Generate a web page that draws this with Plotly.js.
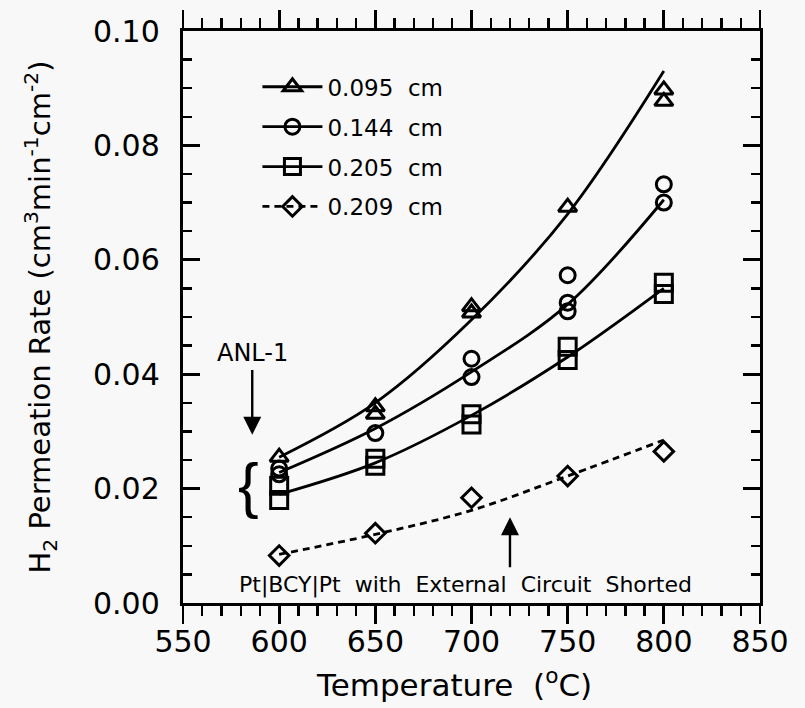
<!DOCTYPE html>
<html>
<head>
<meta charset="utf-8">
<script src="https://cdn.plot.ly/plotly-3.0.1.min.js"></script>
<style>html,body{margin:0;padding:0;background:#f8f8f8;}#chart{width:805px;height:708px;}</style>
</head>
<body>
<div id="chart"></div>
<script>
// ---- data ----
const temps = [600, 650, 700, 750, 800];
const seriesNames = ['0.095&nbsp; cm', '0.144&nbsp; cm', '0.205&nbsp; cm', '0.209&nbsp; cm'];

// measured points (several runs at some temperatures)
const triX = [600, 650, 650, 700, 700, 750, 800, 800];
const triY = [0.0255, 0.0343, 0.0330, 0.0518, 0.0507, 0.0692, 0.0897, 0.0877];
const cirX = [600, 600, 650, 700, 700, 750, 750, 750, 800, 800];
const cirY = [0.0235, 0.0225, 0.0297, 0.0427, 0.0395, 0.0573, 0.0525, 0.0510, 0.0732, 0.0700];
const sqX  = [600, 600, 650, 650, 700, 700, 750, 750, 800, 800];
const sqY  = [0.0205, 0.0180, 0.0252, 0.0240, 0.0330, 0.0312, 0.0448, 0.0425, 0.0560, 0.0540];
const diaX = [600, 650, 700, 750, 800];
const diaY = [0.0083, 0.0122, 0.0184, 0.0222, 0.0265];

// fitted curves
const fitTri = [0.0255, 0.0350, 0.0495, 0.0680, 0.0930];
const fitCir = [0.0228, 0.0305, 0.0404, 0.0522, 0.0705];
const fitSq  = [0.0190, 0.0245, 0.0328, 0.0430, 0.0550];
const fitDia = [0.0085, 0.0120, 0.0162, 0.0222, 0.0285];

const xTickVals = [550, 600, 650, 700, 750, 800, 850];
const yTickVals = [0.00, 0.02, 0.04, 0.06, 0.08, 0.10];
const yTickText = ['0.00', '0.02', '0.04', '0.06', '0.08', '0.10'];

// ---- styling ----
const FONT = 'DejaVu Sans, Arial, sans-serif';
const K = '#000000';
const symbols = ['triangle-up-open', 'circle-open', 'square-open', 'diamond-open'];
const sizes = [16, 15, 17, 15];
const dashes = ['solid', 'solid', 'solid', '7px,5px'];
const ptsX = [triX, cirX, sqX, diaX];
const ptsY = [triY, cirY, sqY, diaY];
const fits = [fitTri, fitCir, fitSq, fitDia];

const traces = [];
for (let i = 0; i < 4; i++) {
  traces.push({
    x: temps, y: fits[i], type: 'scatter', mode: 'lines',
    line: {color: K, width: 2.8, dash: dashes[i], shape: 'spline', smoothing: 1},
    showlegend: false, hoverinfo: 'skip'
  });
  traces.push({
    x: ptsX[i], y: ptsY[i], type: 'scatter', mode: 'markers',
    marker: {symbol: symbols[i], size: sizes[i], color: K, line: {color: K, width: 3}},
    showlegend: false
  });
  // legend entry
  traces.push({
    x: [null], y: [null], type: 'scatter', mode: 'lines+markers', name: seriesNames[i],
    legendgroup: 'g' + i,
    line: {color: K, width: 2.8, dash: dashes[i]},
    marker: {symbol: symbols[i], size: sizes[i], color: K, line: {color: K, width: 3}}
  });
}

const layout = {
  width: 805, height: 708,
  paper_bgcolor: '#f8f8f8', plot_bgcolor: '#f8f8f8',
  margin: {l: 183, r: 45, t: 31, b: 105},
  font: {family: FONT, color: K, size: 30},
  showlegend: true,
  legend: {
    x: 0.129, y: 0.940, xanchor: 'left', yanchor: 'top',
    bgcolor: 'rgba(0,0,0,0)', borderwidth: 0,
    font: {family: FONT, size: 23, color: K},
    traceorder: 'grouped', tracegroupgap: 7, itemwidth: 60
  },
  xaxis: {
    range: [550, 850], tickmode: 'array', tickvals: xTickVals,
    ticks: 'outside', ticklen: 18, tickwidth: 2.8, tickcolor: K,
    showline: true, linewidth: 3.2, linecolor: K, mirror: 'ticks',
    showgrid: false, zeroline: false, ticklabelstandoff: -8,
    tickfont: {family: FONT, size: 30, color: K},
    minor: {dtick: 10, ticks: 'outside', ticklen: 10, tickwidth: 2.4, tickcolor: K, showgrid: false},
    title: {text: ''}
  },
  yaxis: {
    range: [0, 0.10], tickmode: 'array', tickvals: yTickVals, ticktext: yTickText,
    ticks: 'inside', ticklen: 17, tickwidth: 2.8, tickcolor: K,
    showline: true, linewidth: 3.2, linecolor: K, mirror: 'ticks',
    showgrid: false, zeroline: false, ticklabelstandoff: 14,
    tickfont: {family: FONT, size: 30, color: K},
    minor: {dtick: 0.005, ticks: 'inside', ticklen: 9, tickwidth: 2.4, tickcolor: K, showgrid: false},
    title: {text: 'H<sub>2</sub> Permeation Rate (cm<sup>3</sup>min<sup>-1</sup>cm<sup>-2</sup>)',
            font: {family: FONT, size: 29, color: K}, standoff: 34}
  },
  annotations: [
    {x: 0.47, y: -0.178, xref: 'paper', yref: 'paper', yanchor: 'bottom', showarrow: false,
     text: 'Temperature&nbsp; (<sup>o</sup>C)', font: {family: FONT, size: 31, color: K}},
    {x: 586, y: 0.0437, xref: 'x', yref: 'y', text: 'ANL-1', showarrow: false,
     font: {family: FONT, size: 24, color: K}},
    {x: 586, y: 0.0294, ax: 586, ay: 0.0410, xref: 'x', yref: 'y', axref: 'x', ayref: 'y',
     text: '', showarrow: true, arrowhead: 2, arrowsize: 1.5, arrowwidth: 2.4, arrowcolor: K},
    {x: 584, y: 0.0208, xref: 'x', yref: 'y', text: '{', showarrow: false,
     font: {family: 'Liberation Sans, Arial, sans-serif', size: 62, color: K}},
    {x: 720, y: 0.0150, ax: 720, ay: 0.0060, xref: 'x', yref: 'y', axref: 'x', ayref: 'y',
     text: '', showarrow: true, arrowhead: 2, arrowsize: 1.5, arrowwidth: 2.4, arrowcolor: K},
    {x: 697, y: 0.0031, xref: 'x', yref: 'y', showarrow: false,
     text: 'Pt|BCY|Pt&nbsp; with&nbsp; External&nbsp; Circuit&nbsp; Shorted',
     font: {family: FONT, size: 22, color: K}}
  ]
};

Plotly.newPlot('chart', traces, layout, {displayModeBar: false, staticPlot: true});
</script>
</body>
</html>
